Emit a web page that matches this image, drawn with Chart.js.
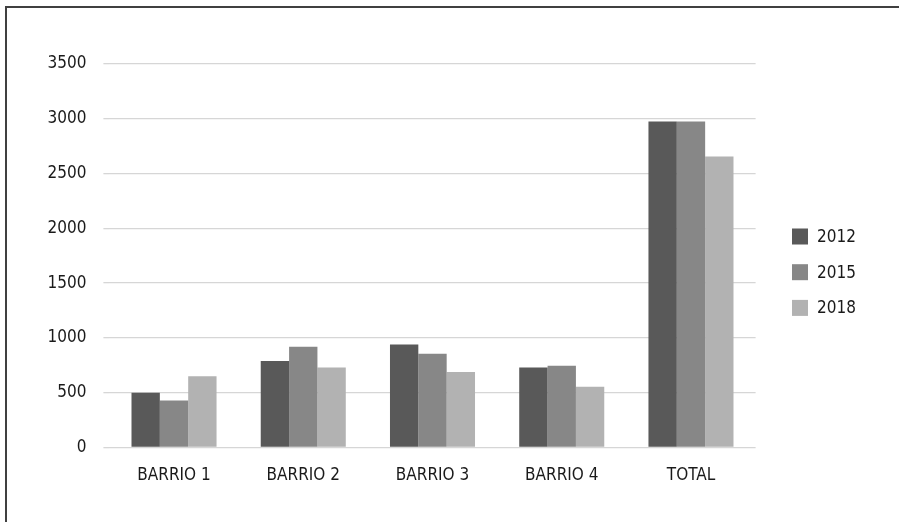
<!DOCTYPE html>
<html>
<head>
<meta charset="utf-8">
<script src="https://cdn.jsdelivr.net/npm/chart.js@4/dist/chart.umd.min.js"></script>
<style>
  html, body { margin: 0; padding: 0; background: #ffffff; overflow: hidden; }
  canvas { display: block; }
</style>
</head>
<body>
<canvas id="c" width="899" height="522"></canvas>
<script>
// Neighbourhood figures for three survey years
const categories = ['BARRIO 1', 'BARRIO 2', 'BARRIO 3', 'BARRIO 4', 'TOTAL'];
const seriesNames = ['2012', '2015', '2018'];
const values2012 = [500, 790, 940, 730, 2975];
const values2015 = [430, 920, 855, 745, 2975];
const values2018 = [650, 730, 690, 555, 2655];
const yTicks = [0, 500, 1000, 1500, 2000, 2500, 3000, 3500];

const colors = ['#595959', '#878787', '#b2b2b2'];
const FONT = '"DejaVu Sans Condensed", "Liberation Sans Narrow", sans-serif';
const TEXT = '#1a1a1a';

// Frame along the top and left edges of the figure
const frame = {
  id: 'frame',
  beforeDraw(chart) {
    const ctx = chart.ctx;
    ctx.save();
    ctx.strokeStyle = '#404040';
    ctx.lineWidth = 2;
    ctx.beginPath();
    ctx.moveTo(6, chart.height + 2);
    ctx.lineTo(6, 7);
    ctx.lineTo(chart.width + 2, 7);
    ctx.stroke();
    ctx.restore();
  }
};

// Legend drawn to the right of the plot: square swatch + year label
const sideLegend = {
  id: 'sideLegend',
  afterDraw(chart) {
    const ctx = chart.ctx;
    const x = 792, size = 16, startY = 236.5, step = 35.7;
    ctx.save();
    ctx.font = '17px ' + FONT;
    ctx.textBaseline = 'middle';
    ctx.textAlign = 'left';
    chart.data.datasets.forEach((ds, i) => {
      const cy = startY + i * step;
      ctx.fillStyle = ds.backgroundColor;
      ctx.fillRect(x, cy - size / 2, size, size);
      ctx.fillStyle = TEXT;
      ctx.fillText(ds.label, x + size + 9, cy + 1);
    });
    ctx.restore();
  }
};

const data = {
  labels: categories,
  datasets: [values2012, values2015, values2018].map((vals, i) => ({
    label: seriesNames[i],
    data: vals,
    backgroundColor: colors[i],
    borderWidth: 0,
    categoryPercentage: 0.658,
    barPercentage: 1.0
  }))
};

new Chart(document.getElementById('c'), {
  type: 'bar',
  data,
  plugins: [frame, sideLegend],
  options: {
    responsive: false,
    animation: false,
    devicePixelRatio: 1,
    layout: { padding: { top: 64, right: 143.4, bottom: 0, left: 0 } },
    plugins: {
      legend: { display: false },
      tooltip: { enabled: false },
      title: { display: false }
    },
    scales: {
      x: {
        grid: { display: false, drawTicks: false },
        border: { display: false },
        ticks: {
          color: TEXT,
          font: { family: FONT, size: 17 },
          padding: 18,
          maxRotation: 0,
          autoSkip: false
        },
        afterFit(scale) { scale.height = 74.5; }
      },
      y: {
        min: 0,
        max: 3500,
        afterBuildTicks(scale) { scale.ticks = yTicks.map(v => ({ value: v })); },
        grid: {
          color: '#d6d6d6',
          lineWidth: 1.3,
          drawTicks: true,
          tickLength: 6,
          tickColor: '#d6d6d6'
        },
        border: { display: false },
        ticks: {
          color: TEXT,
          font: { family: FONT, size: 17 },
          padding: 17,
          callback: (v) => String(v)
        },
        afterFit(scale) { scale.width = 109.4; }
      }
    }
  }
});
</script>
</body>
</html>
